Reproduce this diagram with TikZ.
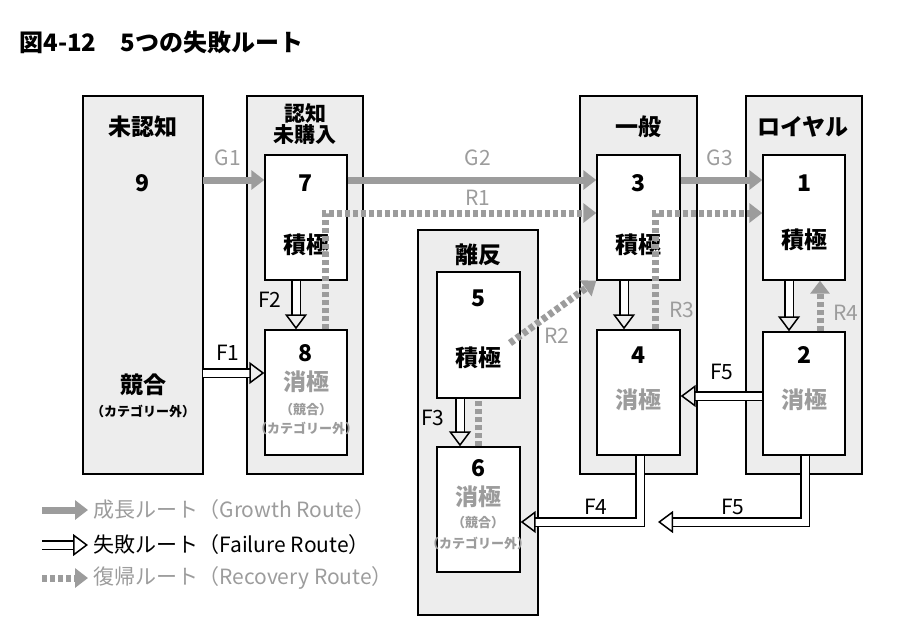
\documentclass[tikz,border=0pt]{standalone}
\usepackage{fontspec}
\setmainfont{Noto Sans CJK JP}
\usetikzlibrary{arrows.meta}
\definecolor{colfill}{HTML}{EDEDED}
\definecolor{routegray}{HTML}{9C9C9C}
\tikzset{
	colbox/.style={draw,fill=colfill,line width=1.4pt},
	statebox/.style={draw,fill=white,line width=1.4pt},
	lbl/.style={font=\fontsize{23}{25}\selectfont\bfseries},
	sublbl/.style={font=\fontsize{13}{15}\selectfont\bfseries,inner sep=0pt},
	glbl/.style={lbl,text=routegray},
	growth/.style={routegray,line width=7pt,-{Triangle[length=13pt,width=19pt]}},
	failure/.style={double,double distance=7pt,line width=1.5pt,-{Triangle[open,length=15pt,width=22pt]}},
	recovery/.style={routegray,line width=7pt,dash pattern=on 5pt off 3pt,-{Triangle[length=13pt,width=19pt]}},
}
\begin{document}
\begin{tikzpicture}[x=1pt,y=-1pt]
	\useasboundingbox (0,0) rectangle (900,630);
	\node [anchor=west,font=\fontsize{24}{26}\selectfont\bfseries] (title) at (16,42) {図4-12\quad 5つの失敗ルート};
	
	% columns
	\draw [colbox] (83,96) rectangle (203,474);
	\draw [colbox] (247,96) rectangle (363,474);
	\draw [colbox] (418,230) rectangle (538,615);
	\draw [colbox] (580,96) rectangle (697,474);
	\draw [colbox] (746,96) rectangle (862,474);
	
	% states
	\node (s7) [statebox,minimum width=82pt,minimum height=125pt] at (306,217.5) {};
	\node (s8) [statebox,minimum width=82pt,minimum height=125pt] at (306,392.5) {};
	\node (s3) [statebox,minimum width=83pt,minimum height=125pt] at (638.5,217.5) {};
	\node (s4) [statebox,minimum width=83pt,minimum height=125pt] at (638.5,392.5) {};
	\node (s1) [statebox,minimum width=82pt,minimum height=125pt] at (804,217.5) {};
	\node (s2) [statebox,minimum width=82pt,minimum height=123pt] at (804,393.5) {};
	\node (s5) [statebox,minimum width=83pt,minimum height=126pt] at (478.5,335) {};
	\node (s6) [statebox,minimum width=83pt,minimum height=125pt] at (478.5,509.5) {};
	
	% texts
	\node (h9) [lbl] at (143,127) {未認知};
	\node (n9) [lbl] at (143,183) {9};
	\node (c9) [lbl] at (143,385) {競合};
	\node (k9) [sublbl] at (143,411) {（カテゴリー外）};
	\node (h78) [lbl,align=center,font=\fontsize{21}{21}\selectfont\bfseries] at (305,124) {認知\\未購入};
	\node (h34) [lbl] at (638,127) {一般};
	\node (h12) [lbl] at (803,127) {ロイヤル};
	\node (h56) [lbl] at (478,255) {離反};
	\node (n7) [lbl] at (306,183) {7};
	\node (a7) [lbl] at (306,245) {積極};
	\node (n8) [lbl] at (306,353) {8};
	\node (p8) [glbl] at (306,382) {消極};
	\node (c8) [sublbl,text=routegray] at (306,410) {（競合）};
	\node (k8) [sublbl,text=routegray] at (306,428) {（カテゴリー外）};
	\node (n3) [lbl] at (638,183) {3};
	\node (a3) [lbl] at (638,245) {積極};
	\node (n4) [lbl] at (638,355) {4};
	\node (p4) [glbl] at (638,400) {消極};
	\node (n1) [lbl] at (804,183) {1};
	\node (a1) [lbl] at (804,240) {積極};
	\node (n2) [lbl] at (804,355) {2};
	\node (p2) [glbl] at (804,400) {消極};
	\node (n5) [lbl] at (478,298) {5};
	\node (a5) [lbl] at (478,358) {積極};
	\node (n6) [lbl] at (478,468) {6};
	\node (p6) [glbl] at (478,497) {消極};
	\node (c6) [sublbl,text=routegray] at (478,523) {（競合）};
	\node (k6) [sublbl,text=routegray] at (478,543) {（カテゴリー外）};
	
	% growth routes
	\coordinate (g1s) at (203,180);
	\draw [growth] (g1s) -- (s7.west |- g1s);
	\draw [growth] (s7.east |- g1s) -- (s3.west |- g1s);
	\draw [growth] (s3.east |- g1s) -- (s1.west |- g1s);
	\node (G1) [glbl,font=\fontsize{21}{23}\selectfont] at (228,158) {G1};
	\node (G2) [glbl,font=\fontsize{21}{23}\selectfont] at (478,158) {G2};
	\node (G3) [glbl,font=\fontsize{21}{23}\selectfont] at (720,158) {G3};
	
	% recovery routes
	\draw [recovery] (s8.north -| 325,0) -- (325,213) -- (s3.west |- 0,213);
	\draw [recovery] (s4.north -| 655,0) -- (655,213) -- (s1.west |- 0,213);
	\draw [recovery] (s2.north -| 820,0) -- (s1.south -| 820,0);
	\draw [recovery] (510,343) -- (s3.south west);
	\draw [routegray,line width=7pt,dash pattern=on 5pt off 3pt] (s6.north) -- (s5.south);
	\node (R1) [glbl,font=\fontsize{21}{23}\selectfont] at (478,198) {R1};
	\node (R2) [glbl,font=\fontsize{21}{23}\selectfont] at (557,336) {R2};
	\node (R3) [glbl,font=\fontsize{21}{23}\selectfont] at (682,310) {R3};
	\node (R4) [glbl,font=\fontsize{21}{23}\selectfont] at (846,313) {R4};
	
	% failure routes
	\coordinate (f1s) at (203,373);
	\draw [failure] (f1s) -- (s8.west |- f1s);
	\draw [failure] (s7.south -| 296,0) -- (s8.north -| 296,0);
	\draw [failure] (s5.south -| 460,0) -- (s6.north -| 460,0);
	\draw [failure] (s3.south -| 624,0) -- (s4.north -| 624,0);
	\draw [failure] (s1.south -| 789,0) -- (s2.north -| 789,0);
	\draw [failure] (s2.west |- 0,396) -- (s4.east |- 0,396);
	\draw [failure] (s4.south -| 640,0) -- (640,522) -- (s6.east |- 0,522);
	\draw [failure] (s2.south -| 805,0) -- (805,522) -- (658,522);
	\node (F1) [lbl,font=\fontsize{21}{23}\selectfont] at (228,353) {F1};
	\node (F2) [lbl,font=\fontsize{21}{23}\selectfont] at (270,300) {F2};
	\node (F3) [lbl,font=\fontsize{21}{23}\selectfont] at (433,418) {F3};
	\node (F5a) [lbl,font=\fontsize{21}{23}\selectfont] at (722,372) {F5};
	\node (F4) [lbl,font=\fontsize{21}{23}\selectfont] at (596,507) {F4};
	\node (F5b) [lbl,font=\fontsize{21}{23}\selectfont] at (733,507) {F5};
	
	% legend
	\coordinate (lg1) at (42,510); \coordinate (lg2) at (42,545); \coordinate (lg3) at (42,578);
	\draw [growth] (lg1) -- ++(46,0);
	\draw [failure] (lg2) -- ++(46,0);
	\draw [recovery] (lg3) -- ++(46,0);
	\node (t1) [glbl,font=\fontsize{21}{23}\selectfont,anchor=west] at (90,510) {成長ルート（Growth Route）};
	\node (t2) [lbl,font=\fontsize{21}{23}\selectfont,anchor=west] at (90,545) {失敗ルート（Failure Route）};
	\node (t3) [glbl,font=\fontsize{21}{23}\selectfont,anchor=west] at (90,578) {復帰ルート（Recovery Route）};
\end{tikzpicture}
\end{document}
